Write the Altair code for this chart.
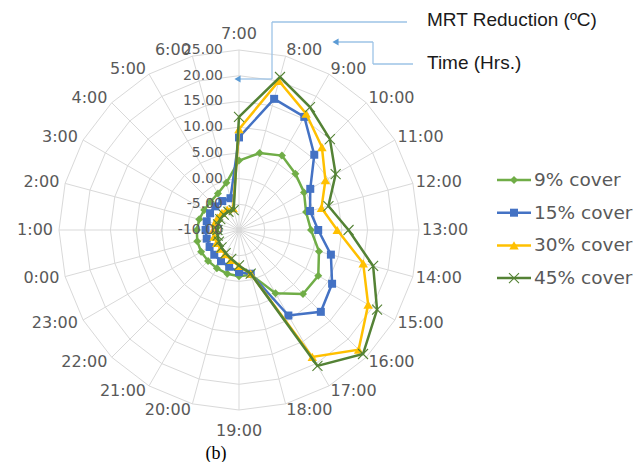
import altair as alt
import pandas as pd

# ---------------- data ----------------
hours = ["7:00", "8:00", "9:00", "10:00", "11:00", "12:00", "13:00", "14:00",
         "15:00", "16:00", "17:00", "18:00", "19:00", "20:00", "21:00", "22:00",
         "23:00", "0:00", "1:00", "2:00", "3:00", "4:00", "5:00", "6:00"]
series_names = ["9% cover", "15% cover", "30% cover", "45% cover"]
cover_9 = [3.5, 5.5, 6.7, 5.5, 4.6, 3.5, 4.0, 6.1, 7.8, 7.6, 4.2, -1.0,
           -1.0, -1.2, -1.4, -1.5, -1.5, -1.6, -1.8, -2.0, -2.2, -2.2, -1.8, -0.5]
cover_15 = [8.0, 16.4, 15.4, 10.7, 6.0, 4.3, 5.4, 8.5, 10.9, 12.5, 9.2, -1.2,
            -1.8, -2.6, -3.0, -3.2, -3.4, -3.5, -3.5, -3.5, -3.5, -3.5, -3.5, -3.6]
cover_30 = [9.6, 20.0, 16.1, 12.8, 9.4, 6.6, 9.1, 15.0, 19.0, 22.9, 18.5, -1.2,
            -3.0, -4.0, -4.6, -4.9, -5.0, -5.0, -5.0, -5.1, -5.2, -5.3, -5.4, -5.6]
cover_45 = [12.0, 20.8, 17.6, 15.0, 11.7, 8.0, 11.3, 17.0, 21.0, 24.1, 20.5, -1.2,
            -3.1, -4.2, -4.8, -5.2, -5.5, -5.7, -5.8, -5.8, -5.8, -5.8, -5.9, -6.0]
radial_ticks = [-10, -5, 0, 5, 10, 15, 20, 25]
series_colors = ["#70AD47", "#4472C4", "#FFC000", "#548235"]

# ---------------- layout ----------------
R_MIN, R_MAX = radial_ticks[0], radial_ticks[-1]
SPAN = R_MAX - R_MIN
N = len(hours)
W, H = 626, 454
CX, CY = 231, 222
K = 180.0 / SPAN
xs = alt.Scale(domain=[-CX / K, (W - CX) / K], nice=False, zero=False)
ys = alt.Scale(domain=[-(H - CY) / K, CY / K], nice=False, zero=False)
GRID = "#D9D9D9"
LABEL = "#595959"
FONT = "DejaVu Sans"
CALLOUT = "#9DC3E6"
ARROW = "#5B9BD5"
X_PATH = "M-1,-1L1,1M-1,1L1,-1"

XQ = lambda f: alt.X(f"{f}:Q", scale=xs, axis=None)
YQ = lambda f: alt.Y(f"{f}:Q", scale=ys, axis=None)

# series table (closed polygon: first point repeated)
rows = []
for name, vals in zip(series_names, [cover_9, cover_15, cover_30, cover_45]):
    for i in range(N + 1):
        rows.append({"series": name, "idx": i, "value": vals[i % N]})
df = pd.DataFrame(rows)

rings = pd.DataFrame([{"ring": v, "idx": i} for v in radial_ticks[1:] for i in range(N + 1)])
spokes = pd.DataFrame({"idx": list(range(N))})
hour_df = pd.DataFrame({"idx": list(range(N)), "hour": hours})
tick_df = pd.DataFrame({"v": radial_ticks, "lab": [f"{v:.2f}" for v in radial_ticks]})


def polar(ch, rexpr):
    return ch.transform_calculate(
        ang=f"datum.idx * 2 * PI / {N}"
    ).transform_calculate(
        px=f"({rexpr}) * sin(datum.ang)",
        py=f"({rexpr}) * cos(datum.ang)",
    )


layers = []

# grid rings
layers.append(
    polar(alt.Chart(rings), f"datum.ring - ({R_MIN})")
    .mark_line(color=GRID, strokeWidth=1)
    .encode(x=XQ("px"), y=YQ("py"), detail="ring:N", order="idx:Q")
)
# spokes
layers.append(
    polar(alt.Chart(spokes), f"{SPAN}")
    .transform_calculate(zero="0")
    .mark_rule(color=GRID, strokeWidth=1)
    .encode(x=XQ("zero"), y=YQ("zero"), x2="px:Q", y2="py:Q")
)

# series
shapes = ["diamond", "square", "triangle-up", X_PATH]
sizes = [64, 64, 90, 100]
for name, color, shape, size in zip(series_names, series_colors, shapes, sizes):
    base = polar(alt.Chart(df).transform_filter(alt.datum.series == name),
                 f"datum.value - ({R_MIN})")
    layers.append(
        base.mark_line(color=color, strokeWidth=2.5)
        .encode(x=XQ("px"), y=YQ("py"), order="idx:Q")
    )
    if shape == X_PATH:
        pm = base.transform_filter(alt.datum.idx < N).mark_point(
            shape=shape, filled=False, stroke=color, strokeWidth=1.1, size=size, opacity=1)
    else:
        pm = base.transform_filter(alt.datum.idx < N).mark_point(
            shape=shape, filled=True, color=color, size=size, opacity=1)
    layers.append(pm.encode(x=XQ("px"), y=YQ("py")))

# hour labels
hl = alt.Chart(hour_df).transform_calculate(
    ang=f"datum.idx * 2 * PI / {N}"
).transform_calculate(
    s="sin(datum.ang)", c="cos(datum.ang)"
).transform_calculate(
    lx=f"{SPAN} * datum.s + (datum.s > 0 ? 3 : 6) * datum.s / {K}",
    ly=f"{SPAN} * datum.c + 6 * datum.c / {K}",
)
tstyle = dict(font=FONT, fontSize=16, color=LABEL)
layers.append(hl.transform_filter("datum.s > 0.1")
              .mark_text(align="left", baseline="middle", **tstyle)
              .encode(x=XQ("lx"), y=YQ("ly"), text="hour:N"))
layers.append(hl.transform_filter("datum.s < -0.1")
              .mark_text(align="right", baseline="middle", **tstyle)
              .encode(x=XQ("lx"), y=YQ("ly"), text="hour:N"))
layers.append(hl.transform_filter("abs(datum.s) <= 0.1 && datum.c > 0")
              .transform_calculate(ty=f"{SPAN} + 8 / {K}")
              .mark_text(align="center", baseline="bottom", **tstyle)
              .encode(x=XQ("lx"), y=YQ("ty"), text="hour:N"))
layers.append(hl.transform_filter("abs(datum.s) <= 0.1 && datum.c < 0")
              .transform_calculate(ty=f"-{SPAN} - 13 / {K}")
              .mark_text(align="center", baseline="top", **tstyle)
              .encode(x=XQ("lx"), y=YQ("ty"), text="hour:N"))

# radial tick labels
layers.append(
    alt.Chart(tick_df).transform_calculate(r=f"datum.v - ({R_MIN})")
    .mark_text(align="right", baseline="middle", font=FONT, fontSize=14, color=LABEL)
    .encode(x=alt.value(215), y=YQ("r"), text="lab:N")
)

# legend (manual, Excel style: line with marker)
for i, (name, color, shape, size) in enumerate(zip(series_names, series_colors, shapes, sizes)):
    yy = 172 + i * 32.7
    one = pd.DataFrame({"name": [name]})
    layers.append(alt.Chart(one).mark_rule(color=color, strokeWidth=2.5).encode(
        x=alt.value(489), x2=alt.value(523), y=alt.value(yy)))
    if shape == X_PATH:
        lp = alt.Chart(one).mark_point(shape=shape, filled=False, stroke=color,
                                       strokeWidth=1.1, size=size, opacity=1)
    else:
        lp = alt.Chart(one).mark_point(shape=shape, filled=True, color=color,
                                       size=size, opacity=1)
    layers.append(lp.encode(x=alt.value(506), y=alt.value(yy)))
    layers.append(alt.Chart(one).mark_text(align="left", baseline="middle", font=FONT,
                                           fontSize=18.5, color=LABEL).encode(
        x=alt.value(526), y=alt.value(yy), text="name:N"))

# callouts
dot = pd.DataFrame({"k": [0]})


def seg(x1, y1, x2, y2):
    return alt.Chart(dot).mark_rule(color=CALLOUT, strokeWidth=1.3).encode(
        x=alt.value(x1), y=alt.value(y1), x2=alt.value(x2), y2=alt.value(y2))


layers += [
    seg(399, 14, 264, 14), seg(264, 14, 264, 71), seg(264, 71, 232, 71),
    seg(405, 56, 365, 56), seg(365, 56, 365, 34), seg(365, 34, 330, 34),
]
for ax, ay in [(229.5, 71), (327.5, 34)]:
    layers.append(alt.Chart(dot).mark_point(shape="triangle-left", filled=True, color=ARROW,
                                            size=50, opacity=1)
                  .encode(x=alt.value(ax), y=alt.value(ay)))

ann = pd.DataFrame({"t": ["MRT Reduction (ºC)", "Time (Hrs.)"]})
for j, yy in enumerate([12, 55]):
    layers.append(alt.Chart(ann).transform_filter(f"datum.t == '{ann.t[j]}'")
                  .mark_text(align="left", baseline="middle", font="Liberation Sans",
                             fontSize=19, color="#1a1a1a")
                  .encode(x=alt.value(419), y=alt.value(yy), text="t:N"))

cap = pd.DataFrame({"c": ["(b)"]})
layers.append(alt.Chart(cap).mark_text(align="center", baseline="middle",
                                       font="Liberation Serif", fontSize=18, color="#000000")
              .encode(x=alt.value(208), y=alt.value(446), text="c:N"))

chart = alt.layer(*layers).properties(
    width=W, height=H, padding=0, autosize=alt.AutoSizeParams(type="none"),
    background="white"
).configure_view(strokeWidth=0)

chart.save("out.html", embed_options={"renderer": "svg", "actions": False})
